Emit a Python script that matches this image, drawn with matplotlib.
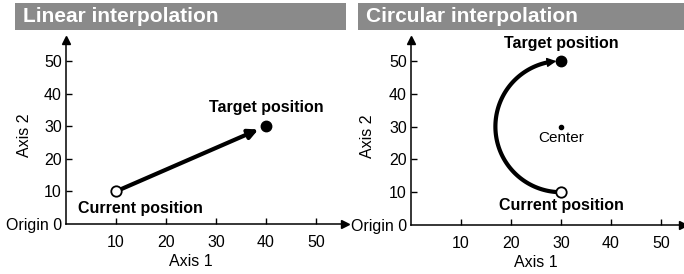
import numpy as np
import matplotlib
matplotlib.use("Agg")
import matplotlib.pyplot as plt
from matplotlib.patches import Rectangle

plt.rcParams['font.family'] = ['Liberation Sans', 'DejaVu Sans']

# data
titles = ["Linear interpolation", "Circular interpolation"]
xticks = [10, 20, 30, 40, 50]
yticks = [0, 10, 20, 30, 40, 50]
ytick_labels = ["Origin 0", "10", "20", "30", "40", "50"]

lin_start = (10, 10)
lin_target = (40, 30)

circ_start = (30, 10)
circ_target = (30, 50)
circ_center = (30, 30)
circ_radius = 20

gray = "#8a8a8a"
W, H = 684, 274
fig = plt.figure(figsize=(W / 100, H / 100), dpi=100)


def px_axes(x0, x1, ybot, ytop):
    return fig.add_axes([x0 / W, (H - ybot) / H, (x1 - x0) / W, (ybot - ytop) / H])


def title_bar(x0, x1, text):
    fig.patches.append(Rectangle((x0 / W, (H - 30) / H), (x1 - x0) / W, 27 / H,
                                 transform=fig.transFigure, facecolor=gray,
                                 edgecolor='none'))
    fig.text((x0 + 8) / W, (H - 16.5) / H, text, color='white', fontsize=15,
             fontweight='bold', va='center', ha='left')


def setup(ax, xmax):
    ax.set_xlim(0, xmax)
    ax.set_ylim(0, 56.4)
    for s in ['top', 'right']:
        ax.spines[s].set_visible(False)
    for s in ['left', 'bottom']:
        ax.spines[s].set_linewidth(1.1)
    ax.set_xticks(xticks)
    ax.set_yticks(yticks)
    ax.set_yticklabels(ytick_labels)
    ax.tick_params(axis='both', direction='in', length=4, width=1, labelsize=11.5)
    ax.tick_params(axis='x', pad=8)
    ax.tick_params(axis='y', pad=3)
    ax.yaxis.get_major_ticks()[0].tick1line.set_visible(False)
    ax.patch.set_alpha(0)
    ax.plot(1, 0, ">k", ms=6, transform=ax.get_yaxis_transform(), clip_on=False)
    ax.plot(0, 1, "^k", ms=6, transform=ax.get_xaxis_transform(), clip_on=False)
    ax.text(25, -0.205, "Axis 1", transform=ax.get_xaxis_transform(),
            ha='center', va='center', fontsize=11.5)


# left panel
title_bar(15, 346, titles[0])
ax1 = px_axes(66, 345, 224, 40)
setup(ax1, 55.8)
ax1.text(-0.148, 0.48, "Axis 2", transform=ax1.transAxes, rotation=90,
         ha='center', va='center', fontsize=11.5)
ax1.annotate("", xy=lin_target, xytext=lin_start,
             arrowprops=dict(arrowstyle='-|>', lw=3, color='black',
                             mutation_scale=14, shrinkA=0, shrinkB=6))
ax1.plot(*lin_start, 'o', ms=7.5, mfc='white', mec='black', mew=1.3, zorder=5)
ax1.plot(*lin_target, 'o', ms=7.5, mfc='black', mec='black', zorder=5)
ax1.text(2.4, 4.9, "Current position", fontsize=11.5, fontweight='bold',
         ha='left', va='center')
ax1.text(40, 35.6, "Target position", fontsize=11.5, fontweight='bold',
         ha='center', va='center')

# right panel
title_bar(358, 684, titles[1])
ax2 = px_axes(411, 683, 225, 40)
setup(ax2, 54.4)
ax2.text(-0.16, 0.48, "Axis 2", transform=ax2.transAxes, rotation=90,
         ha='center', va='center', fontsize=11.5)

# arc drawn as a circle on screen
fig.canvas.draw()
p0 = ax2.transData.transform((0, 0))
p1 = ax2.transData.transform((1, 1))
rx = circ_radius * (p1[1] - p0[1]) / (p1[0] - p0[0])
t = np.linspace(0, np.pi - 0.2, 100)
ax2.plot(circ_center[0] - rx * np.sin(t), circ_center[1] - circ_radius * np.cos(t),
         color='black', lw=3, solid_capstyle='butt')
t_end = np.pi - 0.07
ax2.annotate("", xy=(circ_center[0] - rx * np.sin(t_end), circ_center[1] - circ_radius * np.cos(t_end)),
             xytext=(circ_center[0] - rx * np.sin(t[-1]), circ_center[1] - circ_radius * np.cos(t[-1])),
             arrowprops=dict(arrowstyle='-|>', lw=1, color='black',
                             mutation_scale=14, shrinkA=0, shrinkB=0))
ax2.plot(*circ_start, 'o', ms=7.5, mfc='white', mec='black', mew=1.3, zorder=5)
ax2.plot(*circ_target, 'o', ms=7.5, mfc='black', mec='black', zorder=5)
ax2.plot(*circ_center, 'o', ms=3, color='black')
ax2.text(30, 26.4, "Center", fontsize=11, ha='center', va='center')
ax2.text(30, 55.2, "Target position", fontsize=11.5, fontweight='bold',
         ha='center', va='center')
ax2.text(30, 5.8, "Current position", fontsize=11.5, fontweight='bold',
         ha='center', va='center')

fig.savefig("out.png", dpi=100)
